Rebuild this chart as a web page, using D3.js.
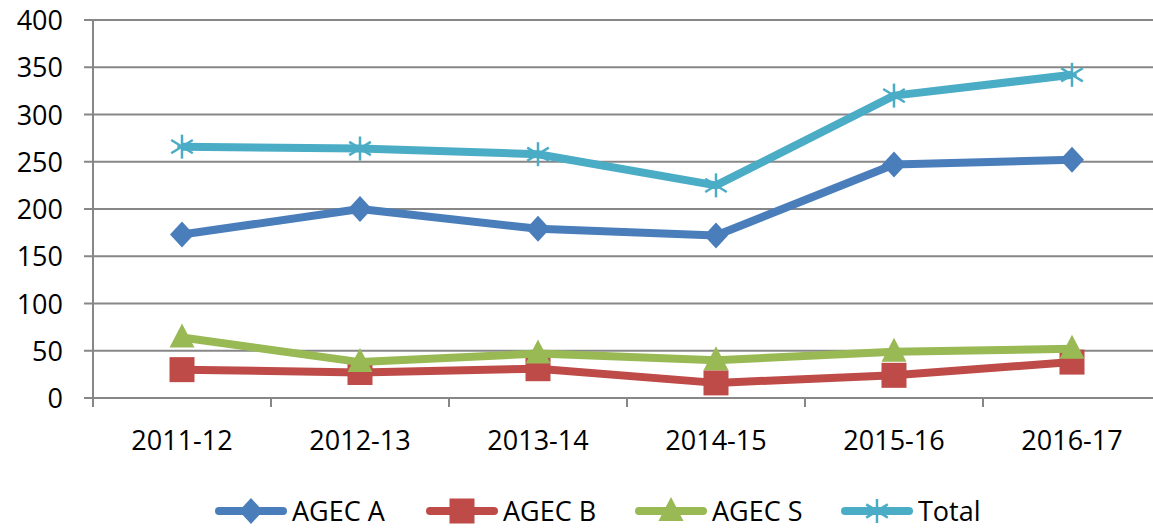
<!DOCTYPE html>
<html>
<head>
<meta charset="utf-8">
<script src="https://cdn.jsdelivr.net/npm/d3@7"></script>
<style>
  body { margin: 0; background: white; }
  text { font-family: "Open Sans", "Liberation Sans", sans-serif; }
</style>
</head>
<body>
<div id="container"></div>
<script>
let w = 1153;
let h = 528;

// DATA
let years = ["2011-12", "2012-13", "2013-14", "2014-15", "2015-16", "2016-17"];
let agecA = [173, 200, 179, 172, 247, 252];
let agecB = [30, 27, 31, 16, 24, 38];
let agecS = [64, 38, 47, 40, 49, 52];
let total = [266, 264, 258, 225, 320, 342];
let yTicks = [0, 50, 100, 150, 200, 250, 300, 350, 400];
let seriesNames = ["AGEC A", "AGEC B", "AGEC S", "Total"];

let series = [
  {name: seriesNames[0], values: agecA, color: "#4a7ebb", marker: "diamond"},
  {name: seriesNames[1], values: agecB, color: "#be4b48", marker: "square"},
  {name: seriesNames[2], values: agecS, color: "#98b954", marker: "triangle"},
  {name: seriesNames[3], values: total, color: "#4bacc6", marker: "star"}
];

let plotLeft = 93, plotTop = 20, plotBottom = 398;
let band = 178;
let fs = 27;

let viz = d3.select("#container").append("svg")
    .attr("width", w)
    .attr("height", h)
    .style("background-color", "white");

let xScale = d3.scaleBand().domain(years).range([plotLeft, plotLeft + band * years.length]);
let yScale = d3.scaleLinear().domain([0, 400]).range([plotBottom, plotTop]);

// gridlines
viz.selectAll(".grid").data(yTicks).enter()
  .append("line")
    .attr("x1", plotLeft - 9)
    .attr("x2", w)
    .attr("y1", d => yScale(d))
    .attr("y2", d => yScale(d))
    .attr("stroke", "#878787")
    .attr("stroke-width", 2);

// y axis line
viz.append("line")
  .attr("x1", plotLeft).attr("x2", plotLeft)
  .attr("y1", plotTop).attr("y2", plotBottom + 9)
  .attr("stroke", "#878787").attr("stroke-width", 2);

// x ticks (between categories)
let xTickPos = d3.range(years.length + 1).map(i => plotLeft + i * band);
viz.selectAll(".xtick").data(xTickPos).enter()
  .append("line")
    .attr("x1", d => d).attr("x2", d => d)
    .attr("y1", plotBottom).attr("y2", plotBottom + 9)
    .attr("stroke", "#878787").attr("stroke-width", 2);

// y labels
viz.selectAll(".ylab").data(yTicks).enter()
  .append("text")
    .attr("x", 63)
    .attr("y", d => yScale(d) + 10)
    .attr("text-anchor", "end")
    .attr("font-size", fs)
    .attr("fill", "#000")
    .text(d => d);

// x labels
viz.selectAll(".xlab").data(years).enter()
  .append("text")
    .attr("x", d => xScale(d) + xScale.bandwidth() / 2)
    .attr("y", 450)
    .attr("text-anchor", "middle")
    .attr("font-size", fs)
    .attr("fill", "#000")
    .text(d => d);

let lineMaker = d3.line()
    .x((d, i) => xScale(years[i]) + xScale.bandwidth() / 2)
    .y(d => yScale(d));

function drawMarker(g, type, color) {
  if (type == "diamond") {
    g.append("path").attr("d", "M0,-13L12,0L0,13L-12,0Z").attr("fill", color);
  } else if (type == "square") {
    g.append("rect").attr("x", -12.5).attr("y", -12.5).attr("width", 25).attr("height", 25).attr("fill", color);
  } else if (type == "triangle") {
    g.append("path").attr("d", "M0,-14L12.5,10L-12.5,10Z").attr("fill", color);
  } else {
    let r = 12;
    let segs = [[0, -r, 0, r], [-r * 0.9, -r * 0.55, r * 0.9, r * 0.55], [-r * 0.9, r * 0.55, r * 0.9, -r * 0.55], [-r * 0.4, 0, r * 0.4, 0]];
    segs.forEach(s => {
      g.append("line").attr("x1", s[0]).attr("y1", s[1]).attr("x2", s[2]).attr("y2", s[3])
        .attr("stroke", color).attr("stroke-width", 2.5);
    });
  }
}

// lines and markers
series.forEach(s => {
  viz.append("path")
    .attr("d", lineMaker(s.values))
    .attr("fill", "none")
    .attr("stroke", s.color)
    .attr("stroke-width", 8)
    .attr("stroke-linejoin", "round");
  s.values.forEach((v, i) => {
    let g = viz.append("g")
      .attr("transform", "translate(" + (xScale(years[i]) + xScale.bandwidth() / 2) + "," + yScale(v) + ")");
    drawMarker(g, s.marker, s.color);
  });
});

// legend
let legendX = [219, 430, 639, 845];
series.forEach((s, i) => {
  let g = viz.append("g").attr("transform", "translate(" + legendX[i] + ",511)");
  g.append("line").attr("x1", 0).attr("x2", 64).attr("y1", 0).attr("y2", 0)
    .attr("stroke", s.color).attr("stroke-width", 8).attr("stroke-linecap", "round");
  let m = g.append("g").attr("transform", "translate(32,0)");
  drawMarker(m, s.marker, s.color);
  g.append("text").attr("x", 73).attr("y", 10).attr("font-size", fs).attr("fill", "#000").text(s.name);
});
</script>
</body>
</html>
